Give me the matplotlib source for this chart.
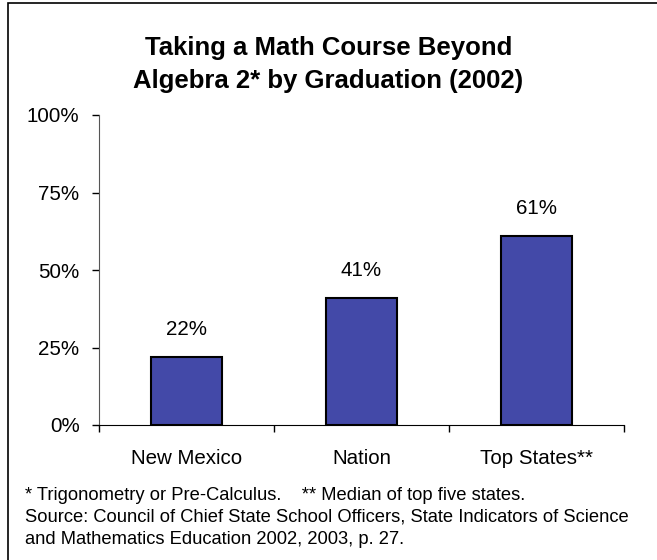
import matplotlib
matplotlib.use("Agg")
import matplotlib.pyplot as plt
from matplotlib.patches import Rectangle

categories = ["New Mexico", "Nation", "Top States**"]
values = [22, 41, 61]
value_labels = ["22%", "41%", "61%"]
yticks = [0, 25, 50, 75, 100]
ytick_labels = ["0%", "25%", "50%", "75%", "100%"]
title = "Taking a Math Course Beyond\nAlgebra 2* by Graduation (2002)"
footnote = ("* Trigonometry or Pre-Calculus.    ** Median of top five states.\n"
            "Source: Council of Chief State School Officers, State Indicators of Science\n"
            "and Mathematics Education 2002, 2003, p. 27.")

plt.rcParams['font.family'] = ['Liberation Sans', 'DejaVu Sans']

fig = plt.figure(figsize=(6.57, 5.60), dpi=100)
# outer frame
fig.patches.append(Rectangle((8/657, -0.05), 1.2, 1 - 3/560 + 0.05, transform=fig.transFigure,
                             fill=False, edgecolor='black', linewidth=1.2))

ax = fig.add_axes([99/657, 1 - 425/560, (624 - 99)/657, (425 - 115)/560])
x = list(range(len(categories)))
ax.bar(x, values, width=0.41, color='#4349A8', edgecolor='black', linewidth=1.5, zorder=3)
for xi, v, lab in zip(x, values, value_labels):
    ax.annotate(lab, (xi, v), xytext=(0, 27), textcoords='offset pixels',
                ha='center', va='center', fontsize=14.8)

ax.set_xlim(-0.5, len(categories) - 0.5)
ax.set_ylim(0, 100)
ax.set_yticks(yticks)
ax.set_yticklabels(ytick_labels, fontsize=14.8)
ax.set_xticks(x)
ax.set_xticklabels(categories, fontsize=14.8)
ax.tick_params(axis='x', length=0, pad=17)
ax.tick_params(axis='y', length=5, width=1, direction='out', pad=9)
# category boundary ticks
ax.set_xticks([i - 0.5 for i in range(len(categories) + 1)], minor=True)
ax.tick_params(axis='x', which='minor', length=5, width=1, direction='out')
for s in ['top', 'right']:
    ax.spines[s].set_visible(False)
ax.spines['left'].set_color('#555555')
ax.spines['bottom'].set_color('black')

fig.text(0.5, 1 - 64.5/560, title, ha='center', va='center', fontsize=18.5,
         fontweight='bold', linespacing=1.45)
fig.text(25/657, 1 - 517.5/560, footnote, ha='left', va='center', fontsize=13.2, linespacing=1.4)

fig.savefig("out.png", dpi=100)
